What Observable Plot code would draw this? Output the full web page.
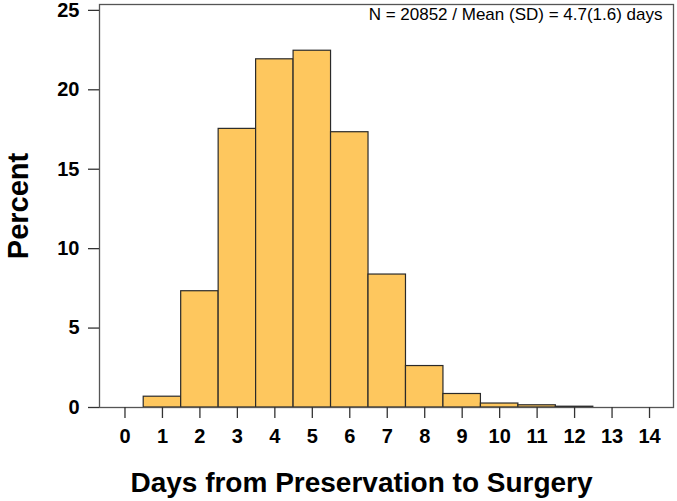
<!DOCTYPE html>
<html>
<head>
<meta charset="utf-8">
<script src="https://cdn.jsdelivr.net/npm/d3@7"></script>
<script src="https://cdn.jsdelivr.net/npm/@observablehq/plot@0.6"></script>
<style>
  html, body { margin: 0; padding: 0; background: #fff; }
  svg { display: block; }
</style>
</head>
<body>
<div id="chart"></div>
<script>
const days = [1, 2, 3, 4, 5, 6, 7, 8, 9, 10, 11, 12];
const percent = [0.68, 7.32, 17.54, 21.92, 22.46, 17.33, 8.37, 2.61, 0.85, 0.25, 0.14, 0.05];
const xTicks = [0, 1, 2, 3, 4, 5, 6, 7, 8, 9, 10, 11, 12, 13, 14];
const yTicks = [0, 5, 10, 15, 20, 25];
const xTitle = "Days from Preservation to Surgery";
const yTitle = "Percent";
const note = "N = 20852 / Mean (SD) = 4.7(1.6) days";

const bins = days.map((d, i) => ({x1: d - 0.5, x2: d + 0.5, y: percent[i]}));
const font = "'Liberation Sans', Arial, Helvetica, sans-serif";

const chart = Plot.plot({
  width: 677,
  height: 501,
  marginLeft: 99,
  marginRight: 4,
  marginTop: 4,
  marginBottom: 94,
  style: {fontFamily: font, background: "#fff", color: "#000"},
  x: {domain: [-0.68, 14.64]},
  y: {domain: [0, 25.37]},
  marks: [
    Plot.rectY(bins, {x1: "x1", x2: "x2", y: "y", fill: "#FEC75E", stroke: "#2a2a2a", strokeWidth: 1.2, inset: 0}),
    Plot.frame({stroke: "#555", strokeWidth: 1.3}),
    Plot.axisX({ticks: xTicks, tickFormat: d => d, tickSize: 11, tickPadding: 10, fontSize: 20, fontWeight: "bold", stroke: "#333", strokeWidth: 1.3, label: null}),
    Plot.axisY({ticks: yTicks, tickFormat: d => d, tickSize: 11, tickPadding: 9, fontSize: 20, fontWeight: "bold", stroke: "#333", strokeWidth: 1.3, label: null}),
    Plot.text([xTitle], {frameAnchor: "bottom", dy: 76, dx: -25, lineAnchor: "middle", fontSize: 28, fontWeight: "bold", fill: "#000"}),
    Plot.text([yTitle], {frameAnchor: "left", textAnchor: "middle", lineAnchor: "middle", rotate: -90, dx: -81, fontSize: 29, fontWeight: "bold", fill: "#000"}),
    Plot.text([note], {frameAnchor: "top-right", textAnchor: "end", lineAnchor: "top", dx: -11, dy: 3, fontSize: 17, fill: "#000"})
  ]
});
document.getElementById("chart").appendChild(chart);
</script>
</body>
</html>
